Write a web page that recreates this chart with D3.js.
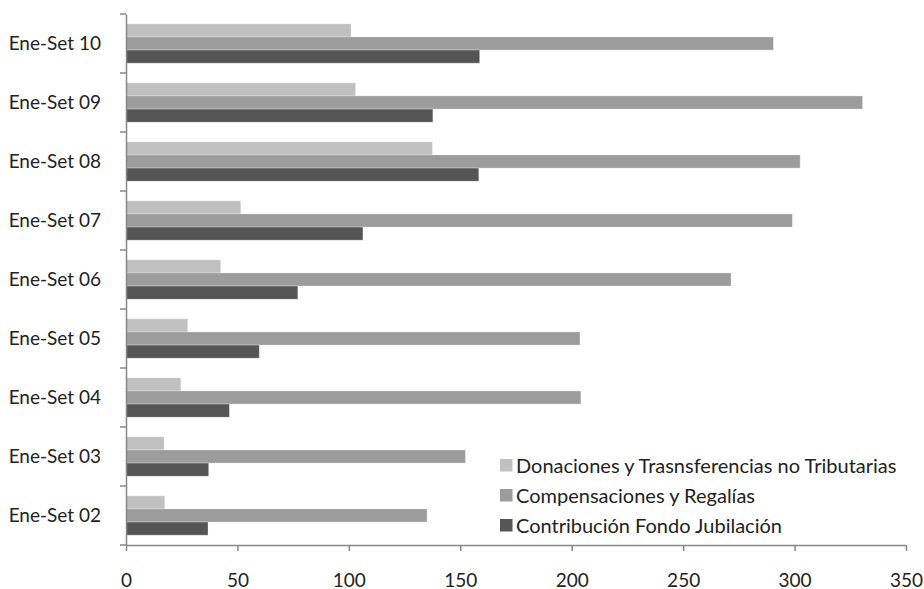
<!DOCTYPE html>
<html>
<head>
<meta charset="utf-8">
<script src="https://cdn.jsdelivr.net/npm/d3@7"></script>
<style>
  body { margin: 0; background: #fff; }
  text { font-family: Lato, "Open Sans", sans-serif; fill: #222; }
</style>
</head>
<body>
<svg id="chart" width="924" height="589"></svg>
<script>
// categories, top to bottom
var categories = ["Ene-Set 10", "Ene-Set 09", "Ene-Set 08", "Ene-Set 07", "Ene-Set 06",
                  "Ene-Set 05", "Ene-Set 04", "Ene-Set 03", "Ene-Set 02"];
var seriesNames = ["Donaciones y Trasnsferencias no Tributarias",
                   "Compensaciones y Regalías",
                   "Contribución Fondo Jubilación"];
var donaciones   = [101, 103, 137.5, 51.5, 42.5, 27.7, 24.6, 17.1, 17.4];
var compensacion = [290.5, 330.5, 302.5, 299, 271.5, 203.7, 204.1, 152.3, 135.1];
var contribucion = [158.7, 137.7, 158.3, 106.3, 77.1, 59.8, 46.4, 37.1, 36.8];
var xTicks = [0, 50, 100, 150, 200, 250, 300, 350];

var colors = ["#c0c0c0", "#9c9c9c", "#555555"];
var seriesValues = [donaciones, compensacion, contribucion];

var svg = d3.select("#chart"),
    margin = {top: 14, right: 18, bottom: 44, left: 126},
    g = svg.append("g").attr("transform", "translate(" + margin.left + "," + margin.top + ")");

var x = d3.scaleLinear().domain([0, 350]).range([0, 780]);
var y0 = d3.scaleBand().domain(categories).range([0, 531])
        .paddingInner(1 / 3).paddingOuter(1 / 6);
var y1 = d3.scaleBand().domain(d3.range(seriesNames.length)).range([0, y0.bandwidth()]);

var rows = categories.map(function (c, i) {
    return {cat: c, values: seriesValues.map(function (s, k) { return {k: k, v: s[i]}; })};
});

g.append("g")
    .selectAll("g")
    .data(rows)
    .enter().append("g")
    .attr("transform", function (d) { return "translate(0," + y0(d.cat) + ")"; })
    .selectAll("rect")
    .data(function (d) { return d.values; })
    .enter().append("rect")
    .attr("x", 0)
    .attr("y", function (d) { return y1(d.k); })
    .attr("width", function (d) { return x(d.v); })
    .attr("height", y1.bandwidth())
    .attr("fill", function (d) { return colors[d.k]; })
    .attr("stroke", "rgba(255,255,255,0.35)")
    .attr("stroke-width", 0.8);

// x axis
var xAxis = g.append("g")
    .attr("transform", "translate(0,531)")
    .call(d3.axisBottom(x).tickValues(xTicks).tickSize(6).tickPadding(23).tickSizeOuter(0));
xAxis.selectAll("text").attr("font-size", 19);

// y axis: labels at band centres, ticks at band boundaries
var yAxis = g.append("g")
    .call(d3.axisLeft(y0).tickSize(0).tickPadding(25));
yAxis.selectAll("text").attr("font-size", 19);
yAxis.selectAll(".tick line").remove();
g.append("g").selectAll("line")
    .data(d3.range(categories.length + 1))
    .enter().append("line")
    .attr("x1", -6).attr("x2", 0)
    .attr("y1", function (i) { return i * y0.step(); })
    .attr("y2", function (i) { return i * y0.step(); });

svg.selectAll("path.domain, line").attr("stroke", "#878787").attr("stroke-width", 1.5);
svg.selectAll(".tick text").attr("fill", "#222").style("font-family", "Lato, 'Open Sans', sans-serif");

// legend
var legend = svg.append("g")
    .selectAll("g")
    .data(seriesNames)
    .enter().append("g")
    .attr("transform", function (d, i) { return "translate(500," + (459 + i * 30) + ")"; });

legend.append("rect")
    .attr("width", 12.5)
    .attr("height", 12.5)
    .attr("fill", function (d, i) { return colors[i]; });

legend.append("text")
    .attr("x", 16)
    .attr("y", 6.5)
    .attr("dy", "0.35em")
    .attr("font-size", 20)
    .text(function (d) { return d; });
</script>
</body>
</html>
